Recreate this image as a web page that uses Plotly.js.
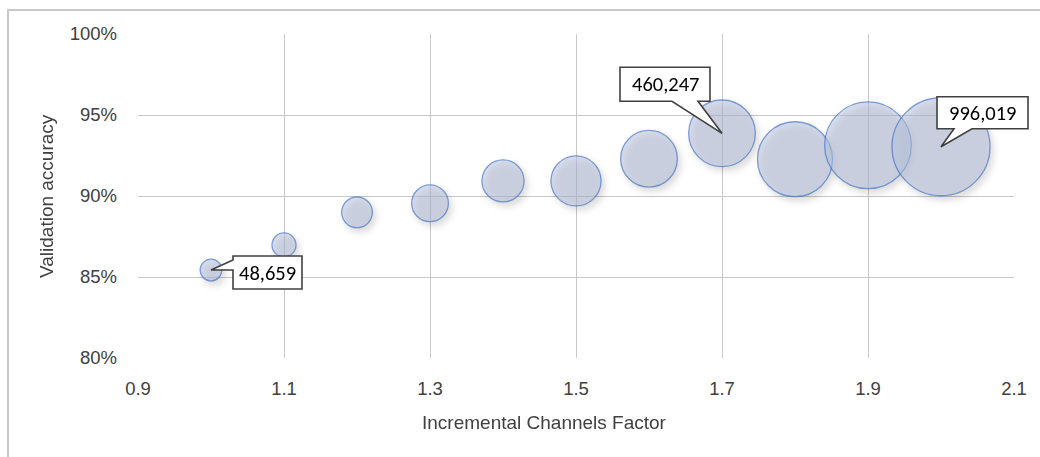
<!DOCTYPE html>
<html>
<head>
<meta charset="utf-8">
<script src="https://cdn.plot.ly/plotly-3.0.1.min.js"></script>
<style>
  html, body { margin: 0; padding: 0; background: #ffffff; overflow: hidden; }
  #wrap { position: relative; width: 1040px; height: 457px; }
  #chart { position: absolute; left: 0; top: 0; width: 1040px; height: 457px; }
  #frame { position: absolute; left: 7px; top: 9px; width: 1100px; height: 500px;
           border-left: 2px solid #c8c8c8; border-top: 2px solid #c8c8c8; pointer-events: none; }
  #chart .scatterlayer g.points { filter: drop-shadow(3px 4px 3px rgba(0,0,0,0.25)); }
</style>
</head>
<body>
<div id="wrap">
  <div id="chart"></div>
  <div id="frame"></div>
</div>
<script>
// ---- data ----
const channelFactor = [1.0, 1.1, 1.2, 1.3, 1.4, 1.5, 1.6, 1.7, 1.8, 1.9, 2.0];
const validationAccuracy = [0.8543, 0.8698, 0.8899, 0.8955, 0.9093, 0.9093, 0.9230, 0.9387, 0.9227, 0.9313, 0.9304];
const parameterCount = [48659, 59700, 97700, 139600, 182900, 259000, 333000, 460247, 583000, 779000, 996019];
const labelledIndex = [0, 7, 10];
const xTickValues = [0.9, 1.1, 1.3, 1.5, 1.7, 1.9, 2.1];
const yTickValues = [0.80, 0.85, 0.90, 0.95, 1.00];
const xAxisTitle = "Incremental Channels Factor";
const yAxisTitle = "Validation accuracy";

// ---- axes ranges ----
const xRange = [0.9, 2.1];
const yRange = [0.8, 1.0];
const toPaperX = v => (v - xRange[0]) / (xRange[1] - xRange[0]);
const toPaperY = v => (v - yRange[0]) / (yRange[1] - yRange[0]);

// ---- styling ----
const tickFont = { family: "Liberation Sans, Arial, sans-serif", size: 18.5, color: "#404040" };
const titleFont = { family: "Liberation Sans, Arial, sans-serif", size: 19, color: "#404040" };
const calloutFont = { family: "Carlito, Calibri, Lato, sans-serif", size: 20.5, color: "#000000" };

// callout outlines (box + wedge), pixel offsets from the marked point, screen y downwards
const calloutOutlines = [
  [[0, 0], [22, -10], [22, -14], [91, -14], [91, 19], [22, 19], [22, 0]],
  [[0, 0], [-24, -32], [-12, -32], [-12, -66], [-102, -66], [-102, -32], [-50, -32]],
  [[0, 0], [31, -18], [87, -18], [87, -50], [-4, -50], [-4, -18], [13, -18]]
];
const calloutTextShift = [[56.5, 2.5], [-57, -49], [41.5, -34]];

const fmt = v => v.toLocaleString("en-US");

const trace = {
  type: "scatter",
  mode: "markers",
  x: channelFactor,
  y: validationAccuracy,
  marker: {
    size: parameterCount,
    sizemode: "area",
    sizeref: 207.4,
    color: "rgba(182,194,220,0.75)",
    line: { color: "#4472C4", width: 1.3 }
  },
  hoverinfo: "skip",
  cliponaxis: false
};

const shapes = labelledIndex.map((idx, k) => ({
  type: "path",
  layer: "above",
  xref: "paper", yref: "paper",
  xsizemode: "pixel", ysizemode: "pixel",
  xanchor: toPaperX(channelFactor[idx]),
  yanchor: toPaperY(validationAccuracy[idx]),
  path: "M" + calloutOutlines[k].map(p => p[0] + "," + (-p[1])).join("L") + "Z",
  fillcolor: "#ffffff",
  line: { color: "#404040", width: 1.6 }
}));

const annotations = labelledIndex.map((idx, k) => ({
  x: channelFactor[idx],
  y: validationAccuracy[idx],
  xref: "x", yref: "y",
  text: fmt(parameterCount[idx]),
  showarrow: false,
  xanchor: "center", yanchor: "middle",
  xshift: calloutTextShift[k][0],
  yshift: -calloutTextShift[k][1],
  font: calloutFont
}));

annotations.push({
  text: xAxisTitle, xref: "paper", yref: "paper",
  x: 0.4635, y: -0.198, xanchor: "center", yanchor: "middle",
  showarrow: false, font: titleFont
});
annotations.push({
  text: yAxisTitle, xref: "paper", yref: "paper",
  x: -0.105, y: 0.5, xanchor: "center", yanchor: "middle",
  textangle: -90, showarrow: false, font: titleFont
});

const layout = {
  width: 1040, height: 457,
  margin: { l: 138, r: 26, t: 34, b: 99 },
  paper_bgcolor: "#ffffff",
  plot_bgcolor: "#ffffff",
  showlegend: false,
  xaxis: {
    range: xRange,
    tickvals: xTickValues,
    ticktext: xTickValues.map(v => v.toFixed(1)),
    showgrid: true, gridcolor: "#c8c8c8", gridwidth: 1,
    zeroline: false, showline: false,
    ticks: "", ticklabelstandoff: 17,
    tickfont: tickFont
  },
  yaxis: {
    range: yRange,
    tickvals: yTickValues,
    tickformat: ".0%",
    showgrid: true, gridcolor: "#c8c8c8", gridwidth: 1,
    zeroline: false, showline: false,
    ticks: "", ticklabelstandoff: 20,
    tickfont: tickFont
  },
  shapes: shapes,
  annotations: annotations
};

Plotly.newPlot("chart", [trace], layout, { staticPlot: true, displayModeBar: false });
</script>
</body>
</html>
